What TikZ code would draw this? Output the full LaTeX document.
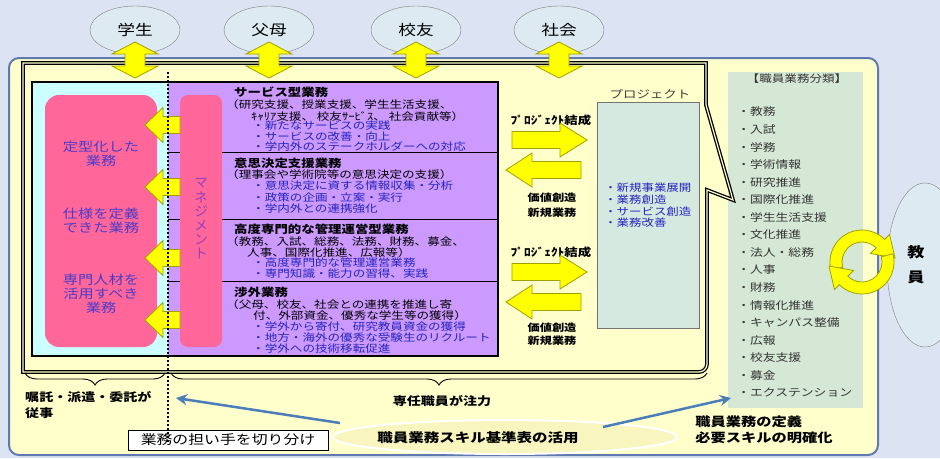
\documentclass[tikz,border=0pt]{standalone}
\usepackage{fontspec}
\usepackage{graphicx}
\setmainfont{Noto Sans CJK JP}
\usetikzlibrary{decorations.pathreplacing,arrows.meta,shapes.geometric}
\definecolor{bgc}{HTML}{DCE3F3}
\definecolor{yel}{HTML}{FFFFCC}
\definecolor{cyb}{HTML}{CCFFFF}
\definecolor{purp}{HTML}{CC99FF}
\definecolor{pinkb}{HTML}{FF6699}
\definecolor{ovalf}{HTML}{DDEAF2}
\definecolor{projf}{HTML}{D6E9E1}
\definecolor{listf}{HTML}{D5E7D5}
\definecolor{ay}{HTML}{FFFF00}
\definecolor{aye}{HTML}{A0A000}
\definecolor{blarc}{HTML}{4A7DBA}
\definecolor{btxt}{HTML}{2424BE}
\definecolor{ptxt}{HTML}{4A3BC9}
\definecolor{mtxt}{HTML}{9B3DB8}
\definecolor{framec}{HTML}{5F7AB0}
\definecolor{glowf}{HTML}{F9F5BE}
\newcommand\hs[1]{\scalebox{1.22}[1]{#1}}
\newcommand\fs[1]{\fontsize{#1}{#1}\selectfont}
\begin{document}
\begin{tikzpicture}[x=1pt,y=-1pt,
  jt/.style={inner sep=0pt, xscale=1.22},
  pl/.style={jt, anchor=west, font=\fs{10.3}},
  pb/.style={pl, text=btxt},
  ph/.style={jt, anchor=west, font=\fs{11}\bfseries},
  li/.style={jt, anchor=west, font=\fs{10.5}, text=black!80},
  yar/.style={fill=ay, draw=aye, line width=0.8pt, line join=miter},
  blar/.style={draw=blarc, line width=2.5pt, -{Stealth[length=11pt,width=11pt]}},
  oval/.style={ellipse, draw=black!50, fill=ovalf, minimum width=90pt, minimum height=48pt, inner sep=0pt},
  pics/dar/.style={code={\draw[yar] (0,42) -- (23,54) -- (10,54) -- (10,66) -- (23,66) -- (0,78) -- (-23,66) -- (-10,66) -- (-10,54) -- (-23,54) -- cycle;}},
  pics/sarr/.style={code={\draw[yar] (0,0) -- (18,-17.5) -- (18,-8.5) -- (35,-8.5) -- (35,8.5) -- (18,8.5) -- (18,17.5) -- cycle;}},
  pics/rarr/.style={code={\draw[yar] (0,-8.5) -- (48,-8.5) -- (48,-17) -- (75,0) -- (48,17) -- (48,8.5) -- (0,8.5) -- cycle;}},
  pics/larr/.style={code={\draw[yar] (0,0) -- (26,-17) -- (26,-8.5) -- (75,-8.5) -- (75,8.5) -- (26,8.5) -- (26,17) -- cycle;}}
]
\useasboundingbox (0,0) rectangle (940,458);
\fill[bgc] (0,0) rectangle (940,458);

% top ovals
\node[oval] (o1) at (135,30) {\fs{14.5}\hs{学生}};
\node[oval] (o2) at (269,30) {\fs{14.5}\hs{父母}};
\node[oval] (o3) at (416,30) {\fs{14.5}\hs{校友}};
\node[oval] (o4) at (559,30) {\fs{14.5}\hs{社会}};

% big yellow frame
\draw[framec, fill=yel, line width=2pt, rounded corners=10pt] (9,58) rectangle (878,455);

% teacher ellipse
\node[ellipse, draw=black!50, fill=ovalf, minimum width=76pt, minimum height=164pt] (te) at (925,265) {};
\node[jt, font=\fontsize{14}{25}\selectfont\bfseries, align=center] (tet) at (916,265) {教\\員};

% right list panel
\fill[listf] (728,72) rectangle (863,408);
\node[jt, font=\fs{10.3}, text=black!80] (lh) at (797,79) {【職員業務分類】};
\foreach \t [count=\i] in {教務,入試,学務,学術情報,研究推進,国際化推進,学生生活支援,文化推進,法人・総務,人事,財務,情報化推進,キャンパス整備,広報,校友支援,募金,エクステンション}
  \node[li] (li\i) at (737,{112+(\i-1)*17.55}) {・\t};

% callout frame
\draw[line width=1.3pt, double=yel, double distance=1.2pt] (23,63) -- (706,63) -- (706,105) -- (733,200) -- (707,190) [rounded corners=8pt] -- (707,372) [sharp corners] -- (23,372) -- cycle;

% inner boxes
\fill[cyb] (32,82) rectangle (168,356);
\fill[purp] (168,82) rectangle (498,356);
\draw[line width=0.9pt] (168,152) -- (498,152);
\draw[line width=0.9pt] (168,219) -- (498,219);
\draw[line width=0.9pt] (168,281) -- (498,281);
\draw[line width=1.3pt] (32,82) rectangle (498,356);

% pink boxes
\fill[pinkb, rounded corners=14pt] (45,95) rectangle (157,347);
\fill[pinkb, rounded corners=8pt] (180,95) rectangle (222,347);
\node[jt, font=\fontsize{12.5}{14}\selectfont, text=ptxt, align=center] (p1) at (101,154) {定型化した\\業務};
\node[jt, font=\fontsize{12.5}{14}\selectfont, text=ptxt, align=center] (p2) at (101,221) {仕様を定義\\できた業務};
\node[jt, font=\fontsize{12.5}{14}\selectfont, text=ptxt, align=center] (p3) at (101,294) {専門人材を\\活用すべき\\業務};
\node[inner sep=0pt, font=\fontsize{13.5}{14.2}\selectfont, text=mtxt, align=center] (mg) at (201,219) {マ\\ネ\\ジ\\メ\\ン\\ト};

% purple texts
\node[ph] (t1) at (234,92) {サービス型業務};
\node[pl] (t2) at (226,105) {（研究支援、授業支援、学生生活支援、};
\node[pl] (t3) at (251,117) {ｷｬﾘｱ支援、 校友ｻｰﾋﾞｽ、 社会貢献等）};
\node[pb] (t4) at (252,126) {・新たなサービスの実践};
\node[pb] (t5) at (252,136.5) {・サービスの改善・向上};
\node[pb] (t6) at (252,147) {・学内外のステークホルダーへの対応};
\node[ph] (t7) at (234,163) {意思決定支援業務};
\node[pl] (t8) at (226,175) {（理事会や学術院等の意思決定の支援）};
\node[pb] (t9) at (252,186) {・意思決定に資する情報収集・分析};
\node[pb] (t10) at (252,198) {・政策の企画・立案・実行};
\node[pb] (t11) at (252,209) {・学内外との連携強化};
\node[ph] (t12) at (234,229) {高度専門的な管理運営型業務};
\node[pl] (t13) at (226,242) {（教務、入試、総務、法務、財務、募金、};
\node[pl] (t14) at (247,253) {人事、国際化推進、広報等）};
\node[pb] (t15) at (252,263) {・高度専門的な管理運営業務};
\node[pb] (t16) at (252,274) {・専門知識・能力の習得、実践};
\node[ph] (t17) at (234,292) {渉外業務};
\node[pl] (t18) at (226,305) {（父母、校友、社会との連携を推進し寄};
\node[pl] (t19) at (253,316) {付、外部資金、優秀な学生等の獲得）};
\node[pb] (t20) at (252,327) {・学外から寄付、研究教員資金の獲得};
\node[pb] (t21) at (252,338) {・地方・海外の優秀な受験生のリクルート};
\node[pb] (t22) at (252,349) {・学外への技術移転促進};

% left arrows
\pic at (145,125) {sarr};
\pic at (145,187) {sarr};
\pic at (145,258) {sarr};
\pic at (145,320) {sarr};

% middle arrows and labels
\node[jt, font=\fs{11}\bfseries] (pk1) at (551,120) {ﾌﾟﾛｼﾞｪｸﾄ結成};
\pic at (512,140) {rarr};
\pic at (506,170) {larr};
\node[jt, font=\fontsize{10}{15}\selectfont\bfseries, align=center] (v1) at (552,205) {価値創造\\新規業務};
\node[jt, font=\fs{11}\bfseries] (pk2) at (551,252) {ﾌﾟﾛｼﾞｪｸﾄ結成};
\pic at (512,272) {rarr};
\pic at (506,302) {larr};
\node[jt, font=\fontsize{10}{13}\selectfont\bfseries, align=center] (v2) at (552,334) {価値創造\\新規業務};

% project box
\draw[black!55, fill=projf, line width=1pt] (597,102) rectangle (699,328);
\node[jt, font=\fs{11}, text=black!75] (pj) at (650,94) {プロジェクト};
\node[jt, anchor=west, font=\fs{10.2}, text=btxt] (pj1) at (604,188) {・新規事業展開};
\node[jt, anchor=west, font=\fs{10.2}, text=btxt] (pj2) at (604,200) {・業務創造};
\node[jt, anchor=west, font=\fs{10.2}, text=btxt] (pj3) at (604,212) {・サービス創造};
\node[jt, anchor=west, font=\fs{10.2}, text=btxt] (pj4) at (604,223) {・業務改善};

% cycle arrows
\begin{scope}[shift={(862,262)}, y=1pt]
\draw[yar] (195:32) arc[start angle=195, end angle=45, radius=32pt] -- (45:39) -- (33,4) -- (45:12) -- (45:20) arc[start angle=45, end angle=195, radius=20pt] -- cycle;
\draw[yar] (15:32) arc[start angle=15, end angle=-135, radius=32pt] -- (-135:39) -- (-33,-4) -- (-135:12) -- (-135:20) arc[start angle=-135, end angle=15, radius=20pt] -- cycle;
\end{scope}

% braces and bottom
\draw[decorate, decoration={brace, mirror, amplitude=12pt}, line width=0.9pt] (25,373) -- (165,373);
\draw[decorate, decoration={brace, mirror, amplitude=12pt}, line width=0.9pt] (171,373) -- (707,373);
\node[jt, anchor=west, font=\fs{11.5}\bfseries] (c1) at (25,397) {嘱託・派遣・委託が};
\node[jt, anchor=west, font=\fs{11.5}\bfseries] (c2) at (25,413) {従事};
\node[jt, font=\fs{11.5}\bfseries] (c3) at (442,401) {専任職員が注力};

\node[ellipse, draw=white, line width=2pt, fill=glowf, minimum width=344pt, minimum height=34pt] (gl) at (505,437) {};
\node[jt, font=\fs{12.7}\bfseries] (glt) at (478,438) {職員業務スキル基準表の活用};
\node[draw=black, fill=white, line width=0.8pt, minimum width=200pt, minimum height=20pt, inner sep=0pt] (kb) at (228,440) {\fs{13}\hs{業務の担い手を切り分け}};

\node[jt, anchor=west, font=\fs{12.5}\bfseries] (d1) at (695,422) {職員業務の定義};
\node[jt, anchor=west, font=\fs{12.5}\bfseries] (d2) at (695,438) {必要スキルの明確化};

\coordinate (b1s) at (340,423);
\coordinate (b1e) at (176,398);
\coordinate (b2s) at (603,427);
\coordinate (b2e) at (731,398);
\draw[blar] (b1s) -- (b1e);
\draw[blar] (b2s) -- (b2e);

% dotted divider
\coordinate (dtop) at (168,72);
\coordinate (dbot) at (168,442);
\draw[line width=2.2pt, dash pattern=on 2pt off 2pt] (dtop) -- (dbot);

% vertical double arrows
\pic at (135,0) {dar};
\pic at (269,0) {dar};
\pic at (416,0) {dar};
\pic at (559,0) {dar};
\end{tikzpicture}
\end{document}
